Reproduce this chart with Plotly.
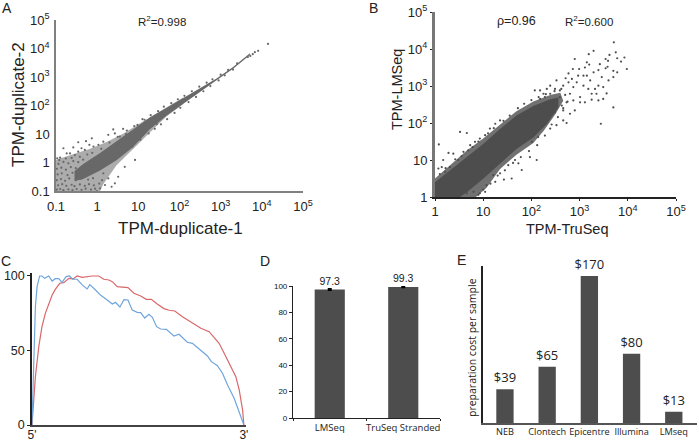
import plotly.graph_objects as go

# The dense scatter clouds cannot be read point by point: each cloud is its outline (log10 TPM)
# plus the individually visible points, estimated by eye.
a_core = [(-0.55,-0.30),(-0.34,-0.05),(0.07,0.33),(0.47,0.74),(0.88,1.14),(1.28,1.58),(1.69,1.92),(2.09,2.26),(2.50,2.60),(2.90,2.95),(3.31,3.36),(3.71,3.83),
          (3.71,3.77),(3.31,3.30),(2.90,2.89),(2.50,2.49),(2.09,2.07),(1.69,1.65),(1.28,1.17),(0.88,0.55),(0.47,0.08),(0.07,-0.28),(-0.34,-0.58),(-0.55,-0.65)]
a_haze = [(-1,0.10),(-0.58,0.30),(-0.17,0.48),(0.23,0.72),(0.64,1.02),(1.12,1.45),(1.69,1.95),(2.09,2.28),(2.09,2.05),(1.69,1.62),(1.28,1.05),(0.88,0.48),(0.47,-0.10),(0.15,-0.75),(0.07,-1),(-1,-1)]
a_points = [(4.15,4.16),(3.91,3.92),(3.83,3.87),(3.78,3.80),(3.72,3.74),(3.66,3.70),
    (-0.82,0.50),(-0.74,0.32),(-0.97,0.15),(-0.90,0.17),(-0.58,0.53),(-0.46,0.71),(-0.27,0.75),(-0.13,0.85),(-0.19,0.62),(-0.38,0.50),
    (-0.66,0.32),(-0.54,0.26),(-0.46,0.38),(-0.30,0.44),(-0.09,0.56),(0.03,0.62),(0.15,0.73),(0.39,1.16),(0.63,1.18),(0.55,0.91),(0.43,1.02),(0.27,0.97),
    (-0.01,-1.0),(0.19,-0.79),(0.35,-0.85),(0.51,-0.50),(0.43,-0.73),(0.92,0.09),(0.67,-0.15),(0.27,-0.56),(0.15,-0.38),(0.07,-0.91),
    (-0.98,-0.95),(-0.90,-0.93),(-0.82,-0.97),(-0.70,-0.94),(-0.60,-0.97),(-0.50,-0.93),(-0.38,-0.96),(-0.28,-0.92),(-0.15,-0.95),(-0.05,-0.92),
    (-0.95,-0.80),(-0.85,-0.76),(-0.75,-0.82),(-0.62,-0.78),(-0.55,-0.83),(-0.42,-0.77),(-0.30,-0.82),(-0.20,-0.76),(-0.08,-0.80),(0.05,-0.74),
    (-0.98,-0.62),(-0.88,-0.58),(-0.78,-0.64),(-0.68,-0.56),(-0.52,-0.62),(-0.40,-0.57),(-0.22,-0.60),(-0.10,-0.55),(0.12,-0.62),
    (-0.96,-0.42),(-0.86,-0.38),(-0.72,-0.44),(-0.60,-0.36),(-0.48,-0.42),(-0.98,-0.22),(-0.87,-0.18),(-0.76,-0.25),(-0.64,-0.16),(-0.52,-0.20),
    (-0.94,-0.05),(-0.82,0.02),(-0.70,-0.03),(-0.58,0.05),(-0.46,0.01),(-0.34,0.10),(-0.92,0.08),(-0.76,0.14),(-0.62,0.16),(-0.42,0.20),(-0.24,0.28),(-0.12,0.34),
    (0.10,0.48),(0.30,0.70),(0.50,0.90),(0.70,1.00),(0.90,1.28),(1.10,1.52),(1.05,0.80),(0.85,0.55),(1.25,1.02),(1.45,1.35),
    (0.72,1.12),(0.98,1.32),(1.15,1.50),(1.30,1.66),(1.48,1.80),(1.62,1.96),(1.80,2.08),(1.96,2.22),(2.12,2.34),(2.30,2.50),(2.48,2.66),(2.66,2.80),(2.80,2.92),(3.00,3.08),(3.18,3.25),(3.40,3.48),
    (1.40,1.18),(1.55,1.34),(1.70,1.52),(1.88,1.74),(2.02,1.92),(2.22,2.12),(2.40,2.30),(2.58,2.50),(2.75,2.68),(2.95,2.88),(3.10,3.06),(3.30,3.26)]

b_core = [(0,0.40),(0.31,0.72),(0.66,1.08),(1.0,1.43),(1.35,1.84),(1.69,2.20),(2.04,2.46),(2.39,2.64),(2.56,2.69),
          (2.56,2.42),(2.32,1.97),(2.04,1.61),(1.69,1.30),(1.35,0.90),(1.0,0.49),(0.66,0.13),(0.52,0),(0,0)]
b_haze = [(0,0.50),(0.31,0.86),(0.66,1.26),(1.0,1.58),(1.35,1.96),(1.69,2.32),(2.04,2.58),(2.39,2.76),(2.60,2.82),(2.66,2.60),(2.50,2.24),(2.26,1.80),
          (2.04,1.46),(1.69,1.14),(1.35,0.76),(1.07,0.25),(0.85,0),(0,0)]
b_points = [(3.71,4.18),(3.29,3.95),(3.19,3.86),(3.75,3.91),(3.62,3.84),(3.93,3.77),(3.78,3.75),(2.90,3.73),(3.54,3.73),(3.59,3.68),(3.86,3.66),(3.15,3.64),
    (3.20,3.58),(3.11,3.50),(3.42,3.59),(3.58,3.52),(3.54,3.48),(3.98,3.46),(2.99,3.46),(2.86,3.46),(2.77,3.34),(3.70,3.41),(3.78,3.37),(3.39,3.43),(3.29,3.37),
    (3.15,3.28),(3.08,3.28),(2.97,3.28),(2.84,3.19),(2.71,3.21),(3.22,3.15),(3.46,3.24),(3.60,3.15),(3.70,3.24),(2.52,3.15),(2.66,3.01),(2.77,3.10),(2.94,3.10),
    (3.39,3.01),(3.32,2.92),(3.49,2.97),(3.18,2.92),(3.08,3.01),(2.87,2.97),(2.07,2.88),(2.18,2.88),(2.32,2.92),(2.39,2.79),(2.59,2.88),(2.80,2.79),(3.01,2.70),
    (3.25,2.79),(3.35,2.79),(3.56,2.80),(3.11,2.56),(3.25,2.63),(3.39,2.61),(3.49,2.65),(2.87,2.61),(3.01,2.56),(2.73,2.56),(3.70,2.42),(3.44,1.98),(2.66,2.07),
    (2.73,2.00),(2.52,1.94),(2.39,1.85),(2.90,2.34),(2.80,2.25),(2.66,2.34),(2.59,2.70),(2.45,2.56),(2.63,2.47),(2.49,2.29),(2.28,2.70),(2.18,2.65),(2.39,3.01),
    (2.49,2.92),(2.25,2.79),
    (0.52,1.76),(0.66,1.73),(0.08,1.42),(0.28,1.19),(0.38,1.17),(0.17,1.0),(0.07,0.77),(0.14,0.81),(0.73,1.40),(0.83,1.49),(0.93,1.58),(1.04,1.67),(1.14,1.85),
    (1.25,1.98),(1.35,2.07),(0.59,1.22),(0.69,1.26),(0.48,1.0),(0.31,0.81),(0.21,0.68),(1.80,0.73),(1.59,0.50),(1.43,0.47),(1.25,0.41),(1.07,0.32),(1.73,0.91),
    (1.97,1.08),(2.11,1.0),(2.01,1.49),(2.14,1.62),(1.66,1.0),(1.52,0.86),(1.35,0.64),(1.21,0.59),(0.93,0.10),(0.80,0.14),(0.55,0.19),(0.66,0.10),(1.04,0.14),(0.73,0.26),
    (0.10,0.62),(0.22,0.78),(0.42,1.02),(0.55,1.10),(0.78,1.35),(0.90,1.50),(1.10,1.72),(1.22,1.86),(1.42,2.06),(1.55,2.20),(1.72,2.40),(1.85,2.52),(2.00,2.62),(2.15,2.70),(2.30,2.78),(2.48,2.86),
    (2.62,2.92),(2.70,2.76),(2.75,2.58),(2.66,2.40),(2.55,2.16),(2.42,1.96),(2.28,1.66),(2.12,1.40),(1.95,1.24),(1.78,1.08),(1.62,0.92),(1.45,0.72),(1.30,0.58),(1.15,0.36),(1.00,0.20),(0.90,0.06)]

c_blue_x = [0,0.8,1.6,2.4,3.6,4.7,6,7.9,9.5,11,12.6,14.2,16.1,17.7,19.2,21.3,23.7,26,27.3,30,32.3,35.5,37.9,39.4,41.5,43.4,45.3,47.3,49.7,51.3,53.2,55.2,56.8,58.8,60.7,63.4,67,69.4,73.3,75.7,79.7,82.8,84.7,87.5,89.9,92.3,95.4,98.6,100]
c_blue_y = [0,41.4,79.4,92.8,100,100,98.4,100,96.6,98.2,98.2,95.7,99.6,100,97.8,97.8,94,91.3,94.2,90.6,87.2,83.9,81.2,82.3,79.2,84.1,83.9,77.2,75.6,75.4,71.8,74.3,72.3,66,64.4,64.2,59.7,60.9,55.5,54.8,50.3,46.3,42.5,39.8,34.7,26.8,17.9,5.6,0]
c_red_x = [0,1.6,3.2,4.7,6.3,7.9,9.5,11,13.1,15,17.4,19.4,21.3,23.7,26,28.4,31.5,33.9,36.3,37.9,40.2,42.6,45.3,48.1,51.3,53.9,56.3,59.1,62.3,64.7,67.4,71,74.9,79.7,83.6,86,88.3,90.7,93.8,96.2,97.8,99.4,100]
c_red_y = [0,32.4,52.6,66,74.9,81.7,87.2,91,95.1,95.5,98.4,98,100,99.1,99.6,100,100,97.8,97.3,96.2,92.8,92.4,92.2,88.4,86.6,84.3,84.3,81.2,78.1,77,76.5,72.7,69.4,64.9,62.6,58.2,54.8,48.1,39.1,32.4,23.5,10,0]

d_categories = ["LMSeq", "TruSeq Stranded"]
d_values = [97.3, 99.3]
d_errors = [0.6, 0.4]
e_categories = ["NEB", "Clontech", "Epicentre", "Illumina", "LMseq"]
e_values = [39, 65, 170, 80, 13]
e_labels = ["$39", "$65", "$170", "$80", "$13"]

log_vals = [0.1, 1, 10, 100, 1000, 10000, 100000]
log_text = ["0.1", "1", "10", "10<sup>2</sup>", "10<sup>3</sup>", "10<sup>4</sup>", "10<sup>5</sup>"]
log_text_b = ["1", "10", "10<sup>2</sup>", "10<sup>3</sup>", "10<sup>4</sup>", "10<sup>5</sup>"]

# ---------- LAYOUT ----------
W, H = 699, 441
SANS, OPEN = "Liberation Sans", "Open Sans"

def dx(a, b): return [a / W, b / W]
def dy(top, bottom): return [1 - bottom / H, 1 - top / H]
def tpm(pairs):
    return [10 ** p[0] for p in pairs], [10 ** p[1] for p in pairs]

fig = go.Figure()

def cloud(core, haze, points, color, haze_alpha, ax):
    for poly, fc in ((haze, color.replace("1)", str(haze_alpha) + ")")), (core, color)):
        x, y = tpm(poly + poly[:1])
        fig.add_trace(go.Scatter(x=x, y=y, mode="lines", fill="toself", fillcolor=fc, line=dict(width=0),
                                 hoverinfo="skip", xaxis="x" + ax, yaxis="y" + ax))
    x, y = tpm(points)
    fig.add_trace(go.Scatter(x=x, y=y, mode="markers", marker=dict(size=2.2, color=color, line=dict(width=0)),
                             xaxis="x" + ax, yaxis="y" + ax))

cloud(a_core, a_haze, a_points, "rgba(104,104,104,1)", 0.55, "")
cloud(b_core, b_haze, b_points, "rgba(77,77,77,1)", 0.8, "2")

fig.add_trace(go.Scatter(x=c_red_x, y=c_red_y, mode="lines", line=dict(color="#d8686a", width=1.2), xaxis="x3", yaxis="y3"))
fig.add_trace(go.Scatter(x=c_blue_x, y=c_blue_y, mode="lines", line=dict(color="#6fa5dc", width=1.2), xaxis="x3", yaxis="y3"))

fig.add_trace(go.Bar(x=d_categories, y=d_values, text=[str(v) for v in d_values], textposition="outside", constraintext="none", cliponaxis=False,
                     textfont=dict(family=SANS, size=10.5, color="#222"), marker=dict(color="#4d4d4d", line=dict(width=0)),
                     error_y=dict(type="data", array=d_errors, color="#000", thickness=1.5, width=2),
                     width=0.41, xaxis="x4", yaxis="y4"))
fig.add_trace(go.Bar(x=list(range(5)), y=e_values, text=e_labels, textposition="outside", constraintext="none", cliponaxis=False,
                     textfont=dict(family=OPEN, size=13, color="#222"), marker=dict(color="#4d4d4d", line=dict(width=0)),
                     width=0.41, xaxis="x5", yaxis="y5"))

def axis_base(**kw):
    d = dict(showgrid=False, zeroline=False, showline=True, ticks="", tickangle=0, automargin=False, tickfont=dict(family=SANS, size=13, color="#222"))
    d.update(kw)
    return d

annots = []
def label(x, y, text, size=12, family=SANS, angle=0, color="#222"):
    annots.append(dict(x=x / W, y=1 - y / H, xref="paper", yref="paper", text=text, showarrow=False, textangle=angle,
                       xanchor="center", yanchor="middle", font=dict(family=family, size=size, color=color)))

for x, y, t in [(7, 8, "A"), (373, 8, "B"), (6, 261, "C"), (265, 261, "D"), (461, 260, "E")]:
    label(x, y, t, size=14)
label(162, 21, "R<sup>2</sup>=0.998", 11.5)
label(180, 229, "TPM-duplicate-1", 17)
label(18, 105, "TPM-duplicate-2", 17, angle=-90)
label(516, 21, "ρ=0.96", 12.5)
label(589, 21, "R<sup>2</sup>=0.600", 11.5)
label(567, 229, "TPM-TruSeq", 14.5)
label(397, 90, "TPM-LMSeq", 14.5, angle=-90)
label(472, 348, "preparation cost per sample", 10.5, family=OPEN, angle=-90)

fig.update_layout(
    width=W, height=H, margin=dict(l=0, r=0, t=0, b=0, autoexpand=False), autosize=False, showlegend=False, barmode="overlay",
    paper_bgcolor="white", plot_bgcolor="white", annotations=annots,
    xaxis=axis_base(domain=dx(56, 303), type="log", range=[-1, 5], tickvals=log_vals, ticktext=log_text, linecolor="#808080", linewidth=1.5, ticks="outside", ticklen=3, tickcolor="rgba(0,0,0,0)", anchor="y"),
    yaxis=axis_base(domain=dy(20, 191), type="log", range=[-1, 5], tickvals=log_vals, ticktext=log_text, linecolor="#808080", linewidth=1.5, ticks="outside", ticklen=2, tickcolor="rgba(0,0,0,0)", anchor="x"),
    xaxis2=axis_base(domain=dx(435, 676), type="log", range=[0, 5], tickvals=log_vals[1:], ticktext=log_text_b, linecolor="#222", linewidth=1.5, ticks="outside", ticklen=2, tickcolor="#222", anchor="y2"),
    yaxis2=axis_base(domain=dy(12, 197), type="log", range=[0, 5], tickvals=log_vals[1:], ticktext=log_text_b, linecolor="#777", linewidth=3, ticks="outside", ticklen=2, tickcolor="#222", anchor="x2"),
    xaxis3=axis_base(domain=dx(32, 246), range=[0, 101], tickvals=[0, 100], ticktext=["5'", "3'"], linecolor="#444", linewidth=1.5, ticklen=0, ticklabelstandoff=-2, tickfont=dict(family=SANS, size=12, color="#222"), anchor="y3"),
    yaxis3=axis_base(domain=dy(273, 425), range=[0, 102], tickvals=[0, 50, 100], linecolor="#222", linewidth=1.5, ticks="outside", ticklen=3, tickcolor="#222", tickfont=dict(family=SANS, size=12.5, color="#222"), anchor="x3"),
    xaxis4=axis_base(domain=dx(293, 440), type="category", range=[-0.5, 1.5], tickson="boundaries", linecolor="#222", linewidth=1.2, ticks="outside", ticklen=2, tickcolor="#222", tickfont=dict(family=OPEN, size=9.5, color="#222"), anchor="y4"),
    yaxis4=axis_base(domain=dy(286, 418), range=[0, 100], tickvals=[0, 20, 40, 60, 80, 100], linecolor="#222", linewidth=1.2, ticks="outside", ticklen=3, tickcolor="#222", tickfont=dict(family=SANS, size=8, color="#111"), anchor="x4"),
    xaxis5=axis_base(domain=dx(483, 697), range=[-0.52, 4.55], tickvals=list(range(5)), ticktext=e_categories, linecolor="#555", linewidth=1.5, ticklen=0, ticklabelstandoff=-1, tickfont=dict(family=OPEN, size=9.2, color="#222"), anchor="y5"),
    yaxis5=axis_base(domain=dy(266, 423), range=[0, 181.5], showticklabels=False, linecolor="#222", linewidth=1.5, anchor="x5"),
)

fig.write_html("out.html", config={"displayModeBar": False}, post_script="document.body.style.margin='0';")
